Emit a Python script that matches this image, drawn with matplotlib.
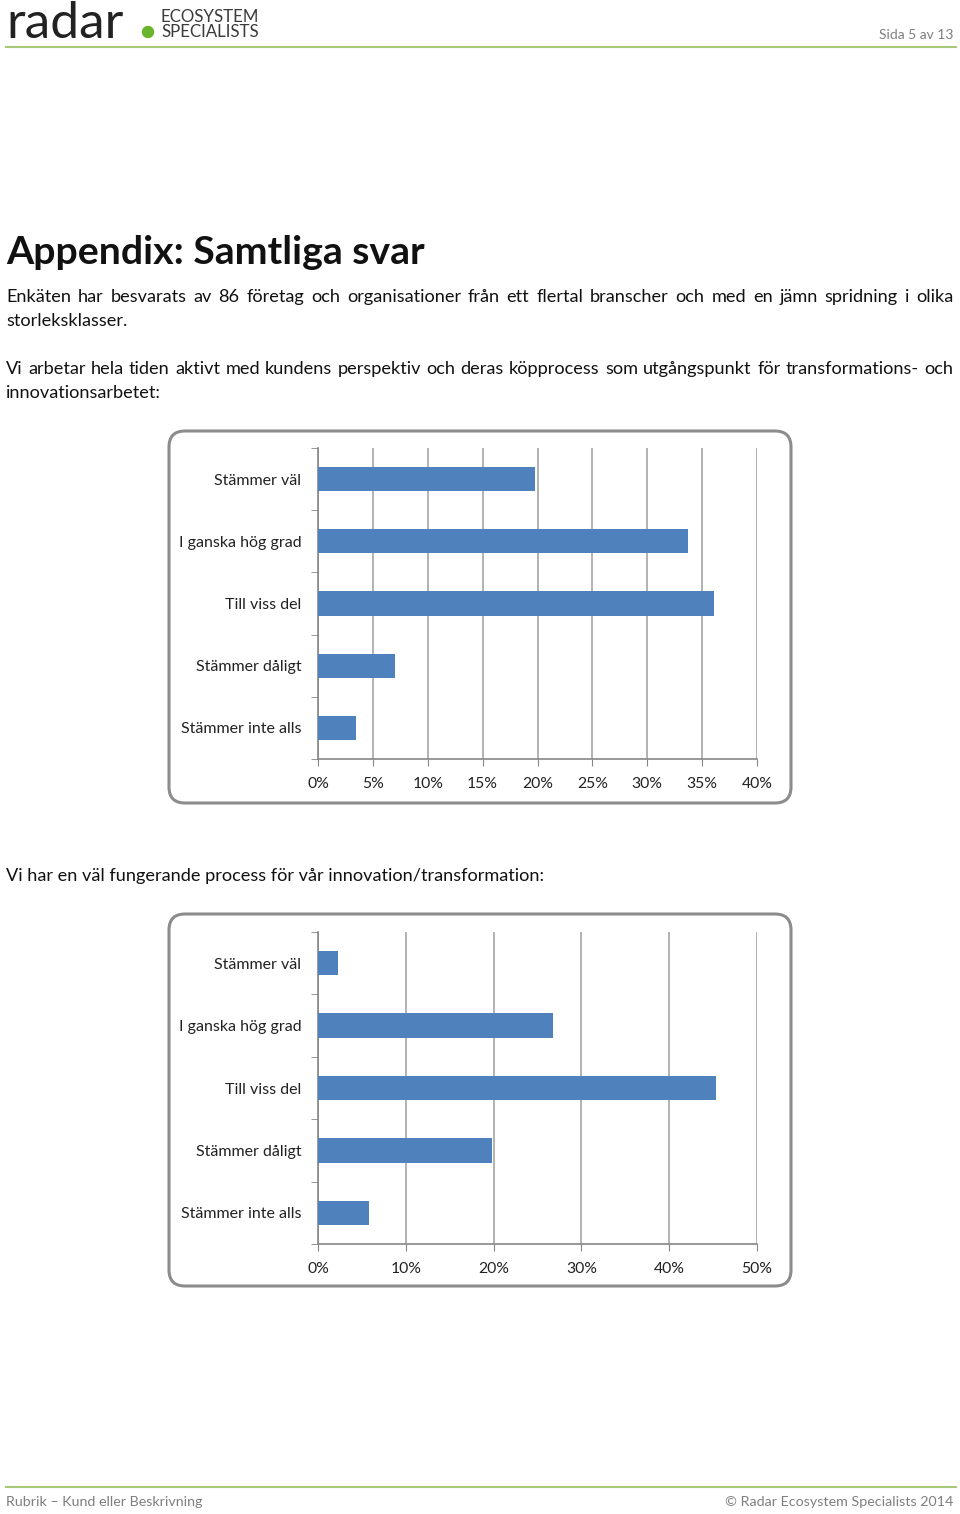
import numpy as np
import matplotlib.pyplot as plt
from matplotlib.patches import FancyBboxPatch, Circle

# Svarsalternativ och andelar (86 svarande)
kategorier = ["Stämmer väl", "I ganska hög grad", "Till viss del", "Stämmer dåligt", "Stämmer inte alls"]
svar_kundperspektiv = [19.77, 33.72, 36.05, 6.98, 3.49]
svar_process = [2.33, 26.74, 45.35, 19.77, 5.81]
ticks_1 = [0, 5, 10, 15, 20, 25, 30, 35, 40]
ticks_2 = [0, 10, 20, 30, 40, 50]

stycke_1 = ["Enkäten har besvarats av 86 företag och organisationer från ett flertal branscher och med en jämn spridning i olika",
            "storleksklasser."]
stycke_2 = ["Vi arbetar hela tiden aktivt med kundens perspektiv och deras köpprocess som utgångspunkt för transformations- och",
            "innovationsarbetet:"]
fraga_2 = "Vi har en väl fungerande process för vår innovation/transformation:"

W, H = 960, 1514
BAR = "#4f81bd"
GRID = "#a6a6a6"
GREEN = "#a9c97a"
BODY = ["Lato", "DejaVu Sans"]
FS = 13.1

fig = plt.figure(figsize=(W / 100, H / 100), dpi=100)
bg = fig.add_axes([0, 0, 1, 1])
bg.set_xlim(0, W)
bg.set_ylim(H, 0)
bg.axis("off")
renderer = fig.canvas.get_renderer()


def justified(line, x0, x1, y, size):
    words = line.split(" ")
    texts = [bg.text(0, y, w, fontsize=size, family=BODY, va="center", color="#111111") for w in words]
    widths = [t.get_window_extent(renderer).width for t in texts]
    gap = (x1 - x0 - sum(widths)) / (len(words) - 1)
    x = x0
    for t, w in zip(texts, widths):
        t.set_x(x)
        x += w + gap


# sidhuvud
bg.text(6, 38, "radar", fontsize=37, family=BODY, va="baseline", color="#222222")
bg.add_patch(Circle((148, 32), 5.5, color="#6ab42d"))
bg.text(161, 17, "ECOSYSTEM", fontsize=12.2, family=BODY, va="center", color="#3a3a3a")
bg.text(161, 32, "SPECIALISTS", fontsize=12.2, family=BODY, va="center", color="#3a3a3a")
bg.text(953, 35, "Sida 5 av 13", fontsize=10, family=BODY, va="center", ha="right", color="#7f7f7f")
bg.plot([6, 956], [47, 47], color=GREEN, lw=1.5)

# rubrik och text
bg.text(6, 252, "Appendix: Samtliga svar", fontsize=28.3, family=BODY,
        fontweight="bold", va="center", color="#111111")
justified(stycke_1[0], 6, 953, 297, FS)
bg.text(6, 321, stycke_1[1], fontsize=FS, family=BODY, va="center", color="#111111")
justified(stycke_2[0], 6, 953, 369, FS)
bg.text(6, 393, stycke_2[1], fontsize=FS, family=BODY, va="center", color="#111111")
bg.text(6, 876, fraga_2, fontsize=FS, family=BODY, va="center", color="#111111")

# sidfot
bg.plot([6, 956], [1487, 1487], color=GREEN, lw=1.5)
bg.text(6, 1502, "Rubrik – Kund eller Beskrivning", fontsize=10.3, family=BODY, va="center", color="#7f7f7f")
bg.text(953, 1502, "© Radar Ecosystem Specialists 2014", fontsize=10.3, family=BODY, va="center",
        ha="right", color="#7f7f7f")


def chart(frame_top, plot_top, plot_bottom, values, ticks):
    bg.add_patch(FancyBboxPatch((169, frame_top), 622, 372, boxstyle="round,pad=0,rounding_size=16",
                                fc="white", ec="#8c8c8c", lw=2.2, zorder=0))
    ax = fig.add_axes([318 / W, 1 - plot_bottom / H, (757 - 318) / W, (plot_bottom - plot_top) / H])
    y = np.arange(len(values))
    ax.barh(y, values, height=0.39, color=BAR, zorder=3)
    ax.set_xlim(ticks[0], ticks[-1])
    ax.set_ylim(len(values) - 0.5, -0.5)
    ax.set_xticks(ticks)
    ax.set_xticklabels([f"{t}%" for t in ticks], fontsize=11.3, family=BODY, color="#222222")
    ax.set_yticks(y)
    ax.set_yticklabels(kategorier, fontsize=11.5, family=BODY, color="#222222")
    ax.set_yticks(np.arange(len(values) + 1) - 0.5, minor=True)
    ax.tick_params(axis="y", which="major", length=0, pad=12)
    ax.tick_params(axis="y", which="minor", length=5, color="#868686", direction="out")
    ax.tick_params(axis="x", length=5, color="#868686", direction="out", pad=8)
    ax.grid(axis="x", color=GRID, lw=1.2, zorder=0)
    for s in ["top", "right"]:
        ax.spines[s].set_visible(False)
    for s in ["left", "bottom"]:
        ax.spines[s].set_color("#868686")
        ax.spines[s].set_linewidth(1.2)
    ax.set_axisbelow(True)
    return ax


chart(431, 448, 759, svar_kundperspektiv, ticks_1)
chart(914, 932, 1244, svar_process, ticks_2)

fig.savefig("out.png", dpi=100)
